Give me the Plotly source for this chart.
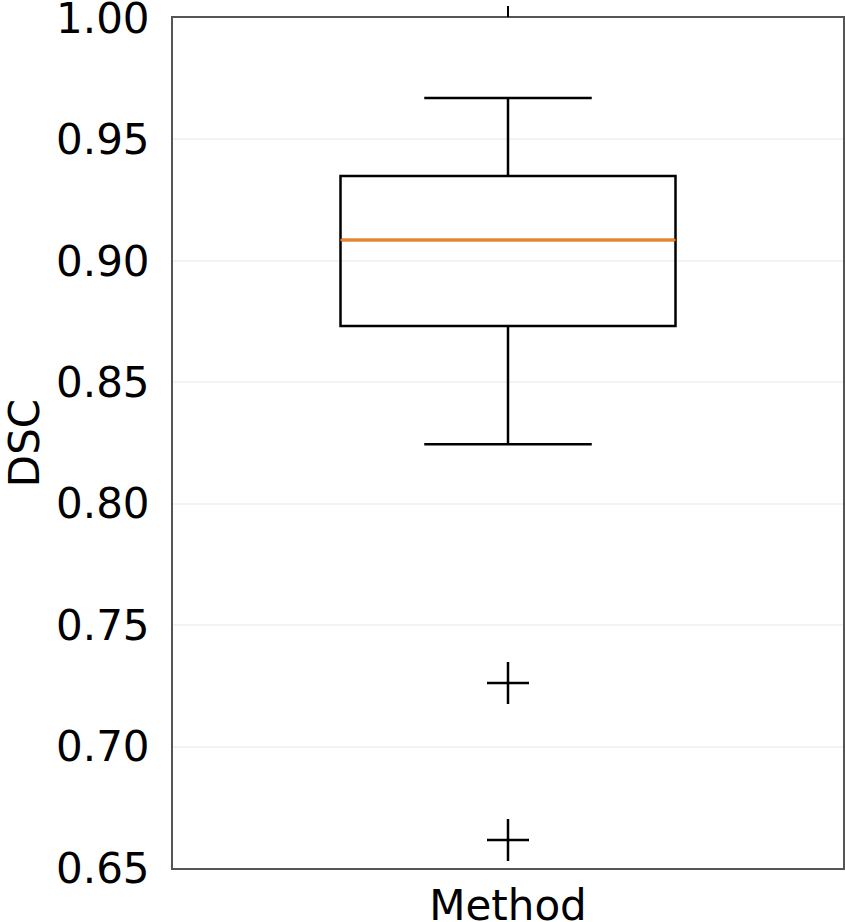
import plotly.graph_objects as go

# box statistics
method = ["Method"]
q1 = [0.8732]
median = [0.9086]
q3 = [0.9349]
lower_whisker = [0.8245]
upper_whisker = [0.9671]
outliers = [0.7262, 0.6615]

y_ticks = [0.65, 0.70, 0.75, 0.80, 0.85, 0.90, 0.95, 1.00]

box_pos = 1
box_w = 0.5
font = dict(family="DejaVu Sans", size=42, color="black")

fig = go.Figure()

fig.add_trace(go.Box(
    x=[box_pos], q1=q1, median=median, q3=q3,
    lowerfence=lower_whisker, upperfence=upper_whisker,
    width=box_w, whiskerwidth=0.5,
    line=dict(color="black", width=2.5),
    fillcolor="rgba(0,0,0,0)",
    boxpoints=False, showlegend=False, hoverinfo="skip",
))

# orange median on top
fig.add_trace(go.Scatter(
    x=[box_pos - box_w / 2, box_pos + box_w / 2], y=median * 2,
    mode="lines", line=dict(color="#ff7f0e", width=2.5),
    showlegend=False, hoverinfo="skip",
))

fig.add_trace(go.Scatter(
    x=[box_pos] * len(outliers), y=outliers, mode="markers",
    marker=dict(symbol="cross-thin", size=30, line=dict(color="black", width=2.5)),
    showlegend=False,
))

# invisible trace so the top axis draws its tick
fig.add_trace(go.Scatter(x=[box_pos], y=[None], xaxis="x2", showlegend=False, hoverinfo="skip"))

fig.update_layout(
    width=845, height=922,
    margin=dict(l=173, r=2, t=18, b=54, autoexpand=False),
    plot_bgcolor="white", paper_bgcolor="white",
    font=font,
    xaxis=dict(
        range=[0.5, 1.5], tickvals=[box_pos], ticktext=method,
        ticks="", showgrid=False, zeroline=False, automargin=False,
        showline=True, mirror=True, linecolor="#555555", linewidth=2,
        tickfont=font, ticklabeloverflow="allow",
    ),
    xaxis2=dict(
        overlaying="x", side="top", range=[0.5, 1.5], tickvals=[box_pos],
        showticklabels=False, ticks="outside", ticklen=11, tickwidth=2,
        tickcolor="black", showgrid=False, zeroline=False, automargin=False,
    ),
    yaxis=dict(
        range=[0.65, 1.00], tickvals=y_ticks, tickformat=".2f",
        ticks="", showgrid=True, gridcolor="#f3f3f3", gridwidth=1.5,
        zeroline=False, showline=True, mirror=True, automargin=False,
        linecolor="#555555", linewidth=2, tickfont=font,
        ticklabeloverflow="allow", ticklabelstandoff=13,
        title=dict(text="DSC", font=font, standoff=14),
    ),
)

# drop the page margin so the figure sits at the window corner
fig.write_html(
    "out.html",
    config={"displayModeBar": False},
    post_script="document.body.style.margin='0';document.body.style.overflow='hidden';",
)
